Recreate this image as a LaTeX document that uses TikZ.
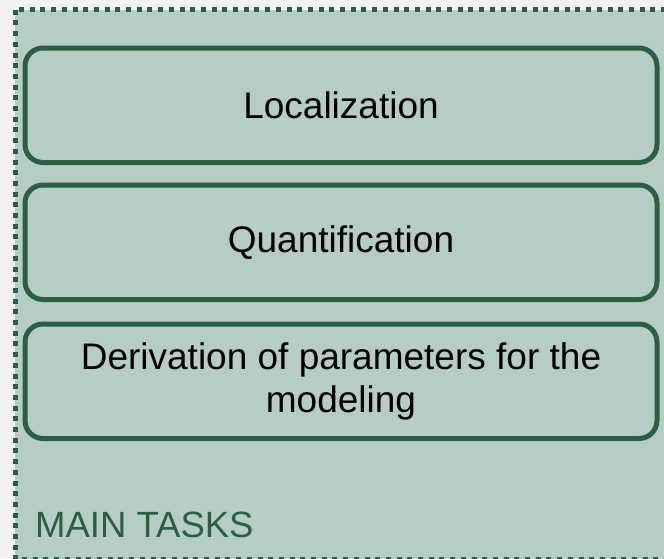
\documentclass[tikz,border=0pt]{standalone}
\usepackage{fontspec}
\setmainfont{Liberation Sans}
\definecolor{panelfill}{HTML}{B6CDC5}
\definecolor{darkgreen}{HTML}{2B5E43}
\definecolor{pagebg}{HTML}{F2F2F2}
\begin{document}
\begin{tikzpicture}[x=1pt,y=-1pt,
  taskbox/.style={draw=darkgreen, line width=5pt, rounded corners=18pt,
    minimum width=632pt, minimum height=114.5pt, inner sep=0pt,
    align=center, font=\fontsize{37}{43}\selectfont, text=black},
  panel/.style={fill=panelfill, draw=darkgreen, line width=5pt,
    dash pattern=on 5pt off 5.7pt, line cap=butt}]
\useasboundingbox (0,0) rectangle (664,558);
\clip (0,0) rectangle (664,558);
\fill[pagebg] (0,0) rectangle (664,558);
\draw[panel] (15,9.7) rectangle (690,559);
\node[taskbox] (loc) at (341,105.25) {Localization};
\node[taskbox] (quant) at (341,242.25) {Quantification};
\node[taskbox] (deriv) at (341,381.25) {Derivation of parameters for the\\modeling};
\node[anchor=base west, inner sep=0pt, text=darkgreen,
  font=\fontsize{36.5}{43}\selectfont] (title) at (35,537) {MAIN TASKS};
\end{tikzpicture}
\end{document}
